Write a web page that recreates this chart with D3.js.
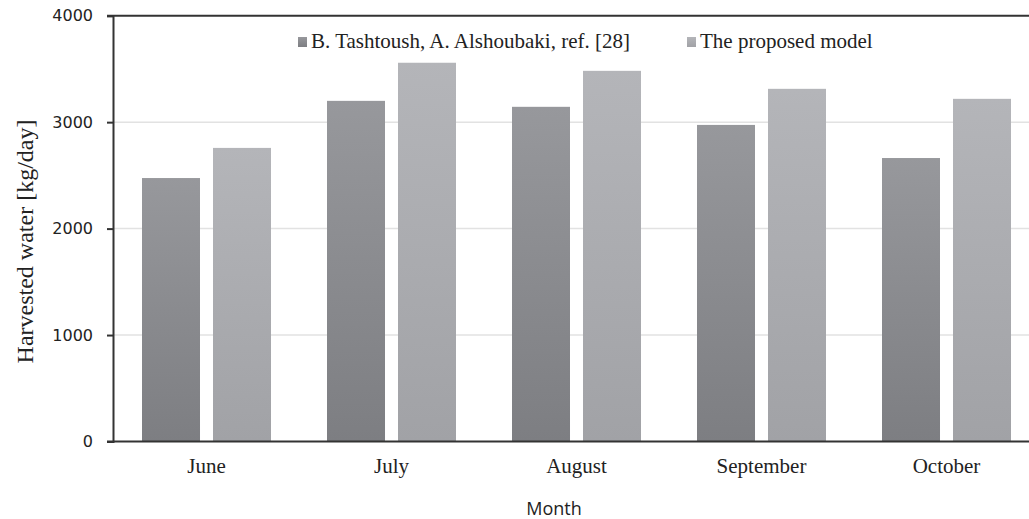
<!DOCTYPE html>
<html>
<head>
<meta charset="utf-8">
<script src="https://cdn.jsdelivr.net/npm/d3@7"></script>
<style>
  body { margin: 0; background: #fff; }
  svg { display: block; }
</style>
</head>
<body>
<svg id="chart" width="1029" height="519"></svg>
<script>
// data
const months = ["June", "July", "August", "September", "October"];
const refValues = [2475, 3200, 3144, 2974, 2663];
const proposedValues = [2758, 3558, 3482, 3313, 3219];
const seriesNames = ["B. Tashtoush, A. Alshoubaki, ref. [28]", "The proposed model"];
const yTicks = [0, 1000, 2000, 3000, 4000];

const svg = d3.select("#chart");

const x0 = d3.scaleBand().domain(months).range([114, 1039]).paddingInner(0).paddingOuter(0);
const x1 = d3.scaleBand().domain([0, 1]).range([28, 157]).paddingInner(0.183);
const y = d3.scaleLinear().domain([0, 4000]).range([441.5, 15.7]);

// gradients
const defs = svg.append("defs");
const grads = [["g0", "#97989c", "#7d7e82"], ["g1", "#b4b5b9", "#a1a2a6"]];
grads.forEach(([id, top, bot]) => {
  const g = defs.append("linearGradient").attr("id", id)
    .attr("x1", 0).attr("y1", 0).attr("x2", 0).attr("y2", 1);
  g.append("stop").attr("offset", "0%").attr("stop-color", top);
  g.append("stop").attr("offset", "100%").attr("stop-color", bot);
});

// gridlines
svg.append("g").selectAll("line").data(yTicks.filter(d => d > 0 && d < 4000)).join("line")
  .attr("x1", 114).attr("x2", 1029)
  .attr("y1", d => y(d)).attr("y2", d => y(d))
  .attr("stroke", "#e2e2e2").attr("stroke-width", 1.5);

// bars
const rows = months.map((m, i) => ({ m, vals: [refValues[i], proposedValues[i]] }));
svg.append("g").selectAll("g").data(rows).join("g")
  .attr("transform", d => `translate(${x0(d.m)},0)`)
  .selectAll("rect").data(d => d.vals.map((v, k) => ({ v, k }))).join("rect")
  .attr("x", d => x1(d.k))
  .attr("width", x1.bandwidth())
  .attr("y", d => y(d.v))
  .attr("height", d => y(0) - y(d.v))
  .attr("fill", d => `url(#g${d.k})`);

// y axis
const yAxis = d3.axisLeft(y).tickValues(yTicks).tickSize(6).tickPadding(14).tickFormat(d3.format("d"));
const ya = svg.append("g").attr("transform", "translate(113,0)").call(yAxis);
ya.select(".domain").attr("stroke", "#333").attr("stroke-width", 2);
ya.selectAll(".tick line").attr("stroke", "#333").attr("stroke-width", 2);
ya.selectAll(".tick text").attr("fill", "#222")
  .style("font-family", "'DejaVu Sans', sans-serif").style("font-size", "16px");

// top and bottom frame lines
svg.append("line").attr("x1", 107).attr("x2", 1029).attr("y1", y(4000)).attr("y2", y(4000))
  .attr("stroke", "#333").attr("stroke-width", 2);
svg.append("line").attr("x1", 107).attr("x2", 1029).attr("y1", y(0)).attr("y2", y(0))
  .attr("stroke", "#333").attr("stroke-width", 2);

// month labels
svg.append("g").selectAll("text").data(months).join("text")
  .attr("x", d => x0(d) + x0.bandwidth() / 2)
  .attr("y", 473)
  .attr("text-anchor", "middle")
  .attr("fill", "#222")
  .style("font-family", "'Liberation Serif', serif").style("font-size", "21px")
  .text(d => d);

// axis titles
svg.append("text").attr("x", 554).attr("y", 515).attr("text-anchor", "middle")
  .attr("fill", "#222")
  .style("font-family", "'Open Sans', sans-serif").style("font-size", "18px")
  .text("Month");

svg.append("text").attr("transform", "translate(33,241.5) rotate(-90)")
  .attr("text-anchor", "middle").attr("fill", "#222")
  .style("font-family", "'Liberation Serif', serif").style("font-size", "24px")
  .text("Harvested water [kg/day]");

// legend
const legendX = [298, 687];
const leg = svg.append("g").selectAll("g").data(seriesNames).join("g")
  .attr("transform", (d, i) => `translate(${legendX[i]},37)`);
leg.append("rect").attr("width", 9).attr("height", 10).attr("fill", (d, i) => `url(#g${i})`);
leg.append("text").attr("x", 13).attr("y", 11.3)
  .attr("fill", "#222")
  .style("font-family", "'Liberation Serif', serif").style("font-size", "21px")
  .text(d => d);
</script>
</body>
</html>
